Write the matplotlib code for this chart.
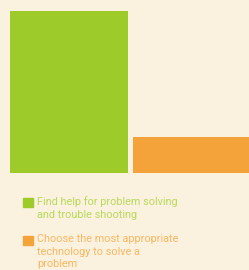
import matplotlib
matplotlib.use("Agg")
import matplotlib.pyplot as plt
from matplotlib.patches import Rectangle

# data
categories = ["Find help for problem solving\nand trouble shooting",
              "Choose the most appropriate\ntechnology to solve a\nproblem"]
values = [82, 18]
colors = ["#9ccb2a", "#f3a33a"]
text_colors = ["#b8d959", "#f6b862"]
bg = "#fbf1df"

W, H = 249, 270
fig = plt.figure(figsize=(W / 100, H / 100), dpi=100, facecolor=bg)

# bar area: left 10px, bottom at 173px from top, top at 11px
ax = fig.add_axes([10 / W, (H - 173) / H, (W - 10) / W, (173 - 11) / H])
ax.set_facecolor(bg)
ax.bar(range(len(values)), values, width=0.96, color=colors)
ax.set_xlim(-0.48, -0.48 + (W - 10) / 123)
ax.set_ylim(0, max(values))
ax.axis("off")

# legend, drawn by hand so the square sits on the first text line
y0 = 198
for label, c, tc in zip(categories, colors, text_colors):
    fig.patches.append(Rectangle((23 / W, 1 - (y0 + 9) / H), 10 / W, 9 / H,
                                 transform=fig.transFigure, color=c))
    fig.text(37 / W, 1 - (y0 - 2) / H, label, color=tc, fontsize=7.8,
             va="top", ha="left", linespacing=1.33, family="Roboto")
    y0 += 13.5 * (label.count("\n") + 1) + 11

fig.savefig("out.png", dpi=100, facecolor=bg)
